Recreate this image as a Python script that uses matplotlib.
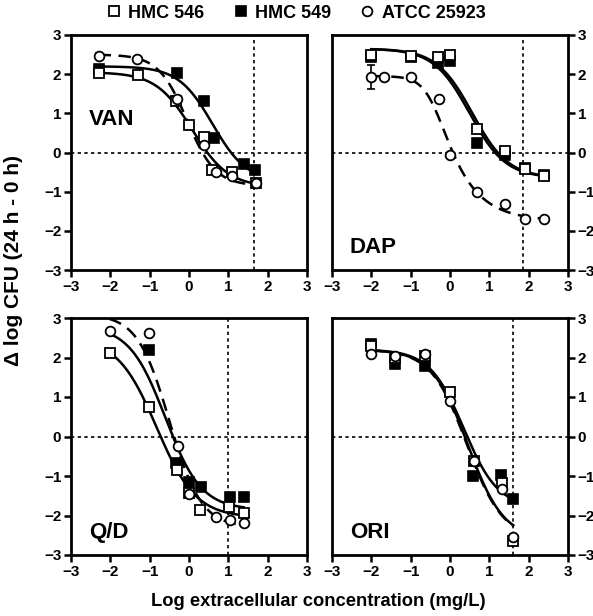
import numpy as np
import matplotlib
matplotlib.use("Agg")
import matplotlib.pyplot as plt
from matplotlib.lines import Line2D

plt.rcParams["font.family"] = ["Liberation Sans", "DejaVu Sans"]
plt.rcParams["font.weight"] = "bold"
plt.rcParams["axes.unicode_minus"] = True

# ============================================================
# === Data: log conc (mg/L) vs delta log CFU, per drug / strain
# ============================================================

STRAINS = ["HMC 546", "HMC 549", "ATCC 25923"]

# VAN
van_x_546 = [-2.30, -1.30, -0.32, 0.00, 0.39, 0.58, 1.09, 1.71]
van_y_546 = [2.02, 1.97, 1.31, 0.69, 0.40, -0.45, -0.49, -0.79]
van_x_549 = [-2.28, -0.31, 0.39, 0.63, 1.41, 1.69]
van_y_549 = [2.12, 2.02, 1.31, 0.38, -0.30, -0.45]
van_x_atcc = [-2.30, -1.31, -0.31, 0.39, 0.69, 1.09, 1.71]
van_y_atcc = [2.46, 2.40, 1.36, 0.20, -0.51, -0.60, -0.79]
van_err_atcc = [0.08, 0, 0, 0, 0, 0, 0]

# DAP
dap_x_546 = [-2.00, -0.98, -0.31, 0.01, 0.69, 1.39, 1.90, 2.39]
dap_y_546 = [2.49, 2.47, 2.44, 2.50, 0.59, 0.04, -0.41, -0.60]
dap_x_549 = [-2.00, -0.98, -0.31, 0.00, 0.69, 1.39, 1.90, 2.39]
dap_y_549 = [2.45, 2.45, 2.29, 2.33, 0.25, -0.07, -0.40, -0.58]
dap_x_atcc = [-2.00, -1.68, -0.98, -0.28, 0.00, 0.69, 1.39, 1.90, 2.39]
dap_y_atcc = [1.93, 1.93, 1.93, 1.36, -0.07, -1.02, -1.32, -1.69, -1.69]
dap_err_atcc = [0.31, 0, 0, 0, 0, 0, 0, 0, 0]

# Q/D
qd_x_546 = [-2.02, -1.01, -0.31, 0.01, 0.29, 1.01, 1.39]
qd_y_546 = [2.11, 0.74, -0.85, -1.44, -1.86, -1.78, -1.94]
qd_x_549 = [-1.01, -0.33, 0.00, 0.31, 1.03, 1.39]
qd_y_549 = [2.20, -0.66, -1.14, -1.28, -1.54, -1.54]
qd_x_atcc = [-2.02, -1.01, -0.29, 0.01, 0.69, 1.03, 1.39]
qd_y_atcc = [2.68, 2.62, -0.23, -1.45, -2.05, -2.11, -2.18]

# ORI
ori_x_546 = [-2.00, -1.39, -0.63, 0.00, 0.61, 1.31, 1.60]
ori_y_546 = [2.28, 1.98, 2.03, 1.12, -0.63, -1.18, -2.64]
ori_x_549 = [-2.00, -1.39, -0.63, 0.59, 1.29, 1.61]
ori_y_549 = [2.34, 1.84, 1.79, -0.99, -0.97, -1.59]
ori_x_atcc = [-2.00, -1.39, -0.63, 0.00, 0.61, 1.31, 1.61]
ori_y_atcc = [2.10, 2.03, 2.09, 0.91, -0.62, -1.34, -2.54]

# Sigmoid fits per strain (546, 549, ATCC): top, bottom, logEC50, slope, asymmetry
van_fit = [(2.05, -0.88, 0.08, 0.95, 1.0), (2.20, -0.75, 0.60, 1.0, 1.0),
           (2.50, -0.85, -0.05, 1.2, 1.0)]
dap_fit = [(2.65, -0.65, 0.57, 0.95, 1.0), (2.65, -0.65, 0.50, 0.95, 1.0),
           (1.95, -1.75, -0.40, 1.85, 0.35)]
qd_fit = [(2.50, -2.05, -0.82, 0.87, 1.0), (2.80, -1.85, -0.60, 0.95, 1.0),
          (3.10, -2.30, -0.50, 1.07, 1.0)]
ori_fit = [(2.20, -2.60, 0.45, 0.95, 1.0), (2.20, -1.80, 0.35, 1.0, 1.0),
           (2.20, -2.60, 0.43, 0.95, 1.0)]

# x span of the fitted curves
van_span = (-2.3, 1.71)
dap_span = (-2.0, 2.39)
qd_span = (-2.02, 1.39)
ori_span = (-2.0, 1.61)

# breakpoint (vertical dotted line) per drug
van_bp = 1.65
dap_bp = 1.85
qd_bp = 1.0
ori_bp = 1.6


def logistic(x, top, bottom, ec50, h, s):
    return bottom + (top - bottom) / (1 + 10 ** ((x - ec50) * h)) ** s


# ============================================================
# === Figure
# ============================================================

fig = plt.figure(figsize=(5.93, 6.16), dpi=100)

W = 236 / 593
boxes = {
    "VAN": [71 / 593, 1 - 270 / 616, W, 235 / 616],
    "DAP": [332 / 593, 1 - 270 / 616, W, 235 / 616],
    "Q/D": [71 / 593, 1 - 555 / 616, W, 237 / 616],
    "ORI": [332 / 593, 1 - 555 / 616, W, 237 / 616],
}

panels = [
    ("VAN", (van_x_546, van_y_546), (van_x_549, van_y_549), (van_x_atcc, van_y_atcc),
     van_fit, van_span, van_bp, (-2.55, 0.85), van_err_atcc),
    ("DAP", (dap_x_546, dap_y_546), (dap_x_549, dap_y_549), (dap_x_atcc, dap_y_atcc),
     dap_fit, dap_span, dap_bp, (-2.55, -2.43), dap_err_atcc),
    ("Q/D", (qd_x_546, qd_y_546), (qd_x_549, qd_y_549), (qd_x_atcc, qd_y_atcc),
     qd_fit, qd_span, qd_bp, (-2.55, -2.43), None),
    ("ORI", (ori_x_546, ori_y_546), (ori_x_549, ori_y_549), (ori_x_atcc, ori_y_atcc),
     ori_fit, ori_span, ori_bp, (-2.55, -2.43), None),
]

MS = 7
for name, d546, d549, datcc, fits, span, bp, lab_pos, err in panels:
    ax = fig.add_axes(boxes[name])
    right = name in ("DAP", "ORI")

    ax.axhline(0, color="black", lw=1.2, ls=(0, (2, 2)), zorder=1)
    ax.axvline(bp, color="black", lw=1.2, ls=(0, (2, 2)), zorder=1)

    # fitted curves: ATCC dashed underneath, then the two HMC strains
    xx = np.linspace(span[0], span[1], 300)
    styles = ["-", "-", (0, (5, 3))]
    for i in [2, 0, 1]:
        ax.plot(xx, logistic(xx, *fits[i]), color="black", lw=1.8, ls=styles[i], zorder=2)

    if err is not None:
        ax.errorbar(datcc[0], datcc[1], yerr=err, fmt="none", ecolor="black",
                    elinewidth=1.2, capsize=3, capthick=1.2, zorder=3)

    ax.plot(d549[0], d549[1], "s", ms=MS, mfc="black", mec="black", mew=1.2, zorder=4)
    ax.plot(d546[0], d546[1], "s", ms=MS, mfc="white", mec="black", mew=1.3, zorder=5)
    ax.plot(datcc[0], datcc[1], "o", ms=MS, mfc="white", mec="black", mew=1.3, zorder=6)

    ax.text(lab_pos[0], lab_pos[1], name, fontsize=16, fontweight="bold",
            ha="left", va="center")

    ax.set_xlim(-3, 3)
    ax.set_ylim(-3, 3)
    ax.set_xticks(range(-3, 4))
    ax.set_yticks(range(-3, 4))
    for s in ax.spines.values():
        s.set_linewidth(2)
    ax.tick_params(direction="out", length=5, width=1.8, labelsize=11, pad=2)
    if right:
        ax.yaxis.tick_right()
        ax.tick_params(axis="y", left=False, right=True)
    else:
        ax.tick_params(axis="y", left=True, right=False)
    for lbl in ax.get_xticklabels() + ax.get_yticklabels():
        lbl.set_fontweight("bold")

# legend across the top
handles = [
    Line2D([], [], ls="none", marker="s", ms=MS, mfc="white", mec="black", mew=1.3),
    Line2D([], [], ls="none", marker="s", ms=MS, mfc="black", mec="black", mew=1.2),
    Line2D([], [], ls="none", marker="o", ms=MS, mfc="white", mec="black", mew=1.3),
]
fig.legend(handles, STRAINS, loc="center", bbox_to_anchor=(296 / 593, 1 - 13 / 616),
           ncol=3, frameon=False, handletextpad=0.4, columnspacing=1.6,
           handlelength=0.8, prop={"weight": "bold", "size": 13}, borderpad=0)

fig.text(14 / 593, 1 - 261 / 616, "Δ log CFU (24 h - 0 h)", rotation=90,
         ha="center", va="center", fontsize=15, fontweight="bold")
fig.text(318 / 593, 1 - 601 / 616, "Log extracellular concentration (mg/L)",
         ha="center", va="center", fontsize=13.2, fontweight="bold")

fig.savefig("out.png", dpi=100)
